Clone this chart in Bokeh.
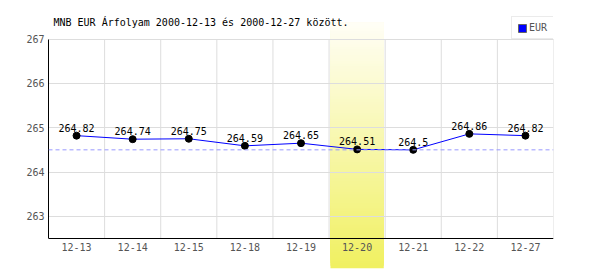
from bokeh.plotting import figure
from bokeh.models import (ColumnDataSource, Range1d, FactorRange, FixedTicker, Span,
                          LabelSet, Label, Legend, LegendItem, CDSView, IndexFilter)
from bokeh.core.properties import value
from bokeh.embed import file_html
from bokeh.resources import INLINE

# ---- data ----
dates = ["12-13", "12-14", "12-15", "12-18", "12-19", "12-20", "12-21", "12-22", "12-27"]
rates = [264.82, 264.74, 264.75, 264.59, 264.65, 264.51, 264.5, 264.86, 264.82]
rate_labels = ["264.82", "264.74", "264.75", "264.59", "264.65", "264.51", "264.5", "264.86", "264.82"]
y_ticks = [263, 264, 265, 266, 267]
highlight_date = "12-20"
reference_rate = 264.5
title_text = "MNB EUR Árfolyam 2000-12-13 és 2000-12-27 között."
series_name = "EUR"

# ---- layout constants ----
AX_LO, AX_HI = 262.5, 267.0
PX_PER_UNIT = 199.5 / (AX_HI - AX_LO)
FRAME_TOP_GAP = 38.5      # px between frame top and the 267 line
Y_LO = AX_LO - 30 / PX_PER_UNIT
Y_HI = AX_HI + FRAME_TOP_GAP / PX_PER_UNIT
FONT = "DejaVu Sans Mono"
FRAME_H = 268

p = figure(width=600, height=270, x_range=FactorRange(factors=dates),
           y_range=Range1d(Y_LO, Y_HI), x_axis_location=None,
           toolbar_location=None, output_backend="svg",
           min_border_left=48, min_border_right=47, min_border_top=0, min_border_bottom=2)
p.outline_line_color = None
p.background_fill_color = "white"
p.border_fill_color = "white"

# y axis
p.yaxis.ticker = FixedTicker(ticks=y_ticks)
p.yaxis.bounds = (AX_LO, AX_HI)
p.yaxis.axis_line_color = "black"
p.yaxis.major_tick_line_color = None
p.yaxis.minor_tick_line_color = None
p.yaxis.major_tick_out = 0
p.yaxis.minor_tick_out = 0
p.yaxis.major_label_text_font = FONT
p.yaxis.major_label_text_font_size = "10px"
p.yaxis.major_label_text_color = "#555555"
p.yaxis.major_label_standoff = 4
p.ygrid.ticker = FixedTicker(ticks=y_ticks)
p.ygrid.grid_line_color = "#dddddd"
p.xgrid.visible = False

# gradient highlight band (from just under the title to the bottom)
n = 90
virt_top = AX_HI + 16.5 / PX_PER_UNIT
c_bot = (240, 240, 96)
c_top = (255, 254, 246)
bottoms, tops, colors = [], [], []
for i in range(n):
    b = Y_LO + (virt_top - Y_LO) * i / n
    t = (i + 0.5) / n
    rgb = tuple(int(round(c_bot[k] + (c_top[k] - c_bot[k]) * t)) for k in range(3))
    bottoms.append(b)
    tops.append(virt_top)
    colors.append("#%02x%02x%02x" % rgb)
band_src = ColumnDataSource(dict(x=[highlight_date] * len(bottoms), bottom=bottoms, top=tops, color=colors))
p.vbar(x="x", bottom="bottom", top="top", width=0.95, fill_color="color", line_color=None,
       source=band_src, level="image")

# vertical grid lines at category boundaries
vx = [(d, 0.5) for d in dates]
p.segment(x0=vx, y0=AX_LO, x1=vx, y1=AX_HI, line_color="#dddddd", line_width=1, level="underlay")

# bottom axis line
p.add_layout(Span(location=AX_LO, dimension="width", line_color="black", line_width=1))

# reference dashed line
p.add_layout(Span(location=reference_rate, dimension="width", line_color="#9999ff",
                  line_width=1, line_dash="4 3"))

src = ColumnDataSource(dict(x=dates, y=rates, label=rate_labels))

# legend swatch renderer: a zero-size rect hidden under the first marker
leg_r = p.rect(x="x", y="y", width=0, height=0, source=src, view=CDSView(filter=IndexFilter([0])),
               fill_color="#0000ff", line_color="#666666")

p.line(x="x", y="y", source=src, line_color="#0000ff", line_width=1)
p.scatter(x="x", y="y", source=src, size=7, fill_color="black", line_color="black")

p.add_layout(LabelSet(x="x", y="y", text="label", source=src, text_align="center",
                      text_baseline="bottom", y_offset=4, text_font=value(FONT),
                      text_font_size=value("10px"), text_color="black"))

tick_src = ColumnDataSource(dict(x=dates, y=[AX_LO] * len(dates), label=dates))
p.add_layout(LabelSet(x="x", y="y", text="label", source=tick_src, text_align="center",
                      text_baseline="top", y_offset=-4, text_font=value(FONT),
                      text_font_size=value("10px"), text_color="#555555"))

# title
p.add_layout(Label(x=5, y=FRAME_H - 22, x_units="screen", y_units="screen", text=title_text,
                   text_font=FONT, text_font_size="10px", text_color="black",
                   text_baseline="middle", text_align="left"))

legend = Legend(items=[LegendItem(label=series_name, renderers=[leg_r], index=0)],
                location=(463, FRAME_H - 39), orientation="vertical",
                border_line_color="#d8d8d8", border_line_width=1,
                background_fill_color="white", background_fill_alpha=1,
                glyph_width=10, glyph_height=10, label_height=10, label_standoff=2,
                padding=5, spacing=0, margin=0,
                label_text_font=FONT, label_text_font_size="10px", label_text_color="#555555")
p.add_layout(legend, "center")

open("out.html", "w").write(file_html(p, INLINE))
